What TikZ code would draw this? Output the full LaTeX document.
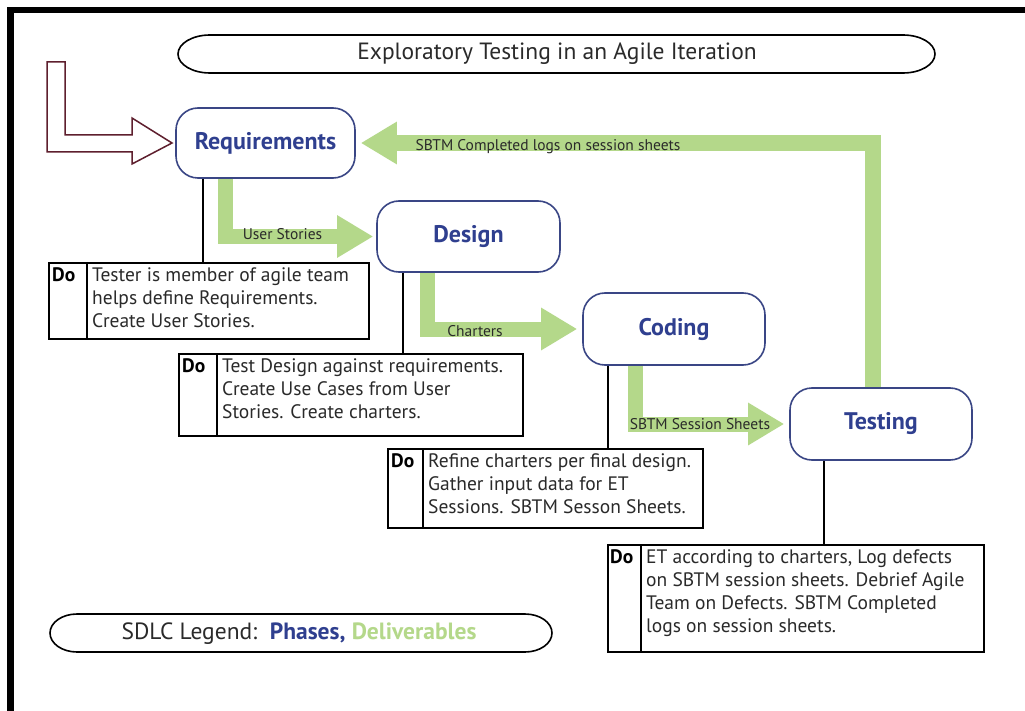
\documentclass[tikz,border=0pt]{standalone}
\usepackage{fontspec}
\setmainfont{PT Sans}
\usetikzlibrary{arrows.meta,calc}
\definecolor{phase}{HTML}{2F3F8F}
\definecolor{boxline}{HTML}{3A4685}
\definecolor{deliv}{HTML}{B4D88A}
\definecolor{maroonarrow}{HTML}{5E1F2E}
\definecolor{lbl}{HTML}{2A2A2A}
\begin{document}
\begin{tikzpicture}[x=1pt,y=-1pt,
  phasebox/.style={draw=boxline, line width=1.6pt, rounded corners=22pt, fill=white,
    text=phase, font=\fontsize{24}{28}\selectfont\bfseries, inner sep=0pt},
  garrow/.style={draw=deliv, line width=15pt, line join=miter,
    -{Triangle[length=36pt,width=40pt]}},
  glabel/.style={text=lbl, font=\fontsize{15.5}{18}\selectfont, inner sep=0pt},
  conn/.style={draw=black, line width=1.5pt},
  dobox/.style={draw=black, line width=1.8pt, fill=white, inner sep=0pt, anchor=north west},
  dolabel/.style={font=\fontsize{19.5}{23}\selectfont\bfseries, inner sep=0pt, anchor=north west},
  dotext/.style={font=\fontsize{19.5}{23.2}\selectfont, inner sep=0pt, anchor=north west, align=left, text=lbl},
  pill/.style={draw=black, line width=1.6pt},
]
\useasboundingbox (0,0) rectangle (1025,711);
\fill[white] (0,0) rectangle (1025,711);
% frame
\draw[line width=6.5pt, line join=miter] (1030,10) -- (10.5,10) -- (10.5,720);

% title pill
\node[font=\fontsize{23.5}{28}\selectfont, text=lbl, inner sep=0pt] (title) at (557,54) {Exploratory Testing in an Agile Iteration};
\draw[pill] (210,35) -- (903,35) arc[start angle=-90, end angle=90, x radius=32, y radius=19]
  -- (210,73) arc[start angle=90, end angle=270, x radius=32, y radius=19] -- cycle;

% phase boxes
\node[phasebox, minimum width=179pt, minimum height=70pt] (req) at (265.5,143) {Requirements};
\node[phasebox, minimum width=183pt, minimum height=71pt] (design) at (468.5,236.5) {Design};
\node[phasebox, minimum width=182pt, minimum height=72pt] (coding) at (674,329) {Coding};
\node[phasebox, minimum width=182pt, minimum height=72pt] (testing) at (881,424) {Testing};

% incoming hollow arrow
\draw[maroonarrow, line width=1.5pt, fill=white, line join=miter]
  (47,62) -- (65,62) -- (65,135) -- (132,135) -- (132,118) -- (172,143)
  -- (132,164) -- (132,152) -- (47,152) -- cycle;

% deliverable arrows
\draw[garrow, shorten >=3pt] ([xshift=-40pt]req.south) |- (design.west);
\draw[garrow, shorten >=5pt] ([xshift=-41.5pt]design.south) |- (coding.west);
\draw[garrow, shorten >=5pt] ([xshift=-39pt]coding.south) |- (testing.west);
\draw[garrow, line width=16pt, shorten >=5pt] ([xshift=-8pt]testing.north) |- (req.east);

\node[glabel] (l1) at (282.5,234) {User Stories};
\node[glabel] (l2) at (475,331) {Charters};
\node[glabel] (l3) at (700,424) {SBTM Session Sheets};
\node[glabel] (l4) at (548,147) {SBTM Completed logs on session sheets};

% do boxes
\node[dobox, minimum width=320pt, minimum height=76pt] (do1) at (48,262) {};
\node[dobox, minimum width=344pt, minimum height=82pt] (do2) at (178,353) {};
\node[dobox, minimum width=315pt, minimum height=79pt] (do3) at (387,448) {};
\node[dobox, minimum width=376pt, minimum height=107pt] (do4) at (607,544) {};

\draw[conn] ([xshift=39pt]do1.north west) coordinate (v1) -- (v1 |- do1.south);
\draw[conn] ([xshift=39pt]do2.north west) coordinate (v2) -- (v2 |- do2.south);
\draw[conn] ([xshift=36pt]do3.north west) coordinate (v3) -- (v3 |- do3.south);
\draw[conn] ([xshift=34pt]do4.north west) coordinate (v4) -- (v4 |- do4.south);

\node[dolabel] (dl1) at ([xshift=4pt,yshift=-5pt]do1.north west) {Do};
\node[dolabel] (dl2) at ([xshift=4pt,yshift=-5pt]do2.north west) {Do};
\node[dolabel] (dl3) at ([xshift=4pt,yshift=-5pt]do3.north west) {Do};
\node[dolabel] (dl4) at ([xshift=3pt,yshift=-5pt]do4.north west) {Do};

\node[dotext] (dt1) at ([xshift=5pt,yshift=-5pt]v1) {Tester is member of agile team\\helps define Requirements.\\Create User Stories.};
\node[dotext] (dt2) at ([xshift=5pt,yshift=-5pt]v2) {Test Design against requirements.\\Create Use Cases from User\\Stories. Create charters.};
\node[dotext] (dt3) at ([xshift=5pt,yshift=-5pt]v3) {Refine charters per final design.\\Gather input data for ET\\Sessions. SBTM Sesson Sheets.};
\node[dotext] (dt4) at ([xshift=5pt,yshift=-5pt]v4) {ET according to charters, Log defects\\on SBTM session sheets. Debrief Agile\\Team on Defects. SBTM Completed\\logs on session sheets.};

% connectors from phases to do boxes
\draw[conn] ([xshift=-62.5pt]req.south) coordinate (c1) -- (c1 |- do1.north);
\draw[conn] ([xshift=-65.5pt]design.south) coordinate (c2) -- (c2 |- do2.north);
\draw[conn] ([xshift=-66pt]coding.south) coordinate (c3) -- (c3 |- do3.north);
\draw[conn] ([xshift=-57pt]testing.south) coordinate (c4) -- (c4 |- do4.north);

% legend pill
\node[font=\fontsize{23.5}{28}\selectfont, text=lbl, inner sep=0pt] (legend) at (299,634)
  {SDLC Legend:\ \ \textcolor{phase}{\bfseries Phases,} \textcolor{deliv}{\bfseries Deliverables}};
\draw[pill] (77,614) -- (525,614) arc[start angle=-90, end angle=90, x radius=27, y radius=19]
  -- (77,652) arc[start angle=90, end angle=270, x radius=27, y radius=19] -- cycle;
\end{tikzpicture}
\end{document}
